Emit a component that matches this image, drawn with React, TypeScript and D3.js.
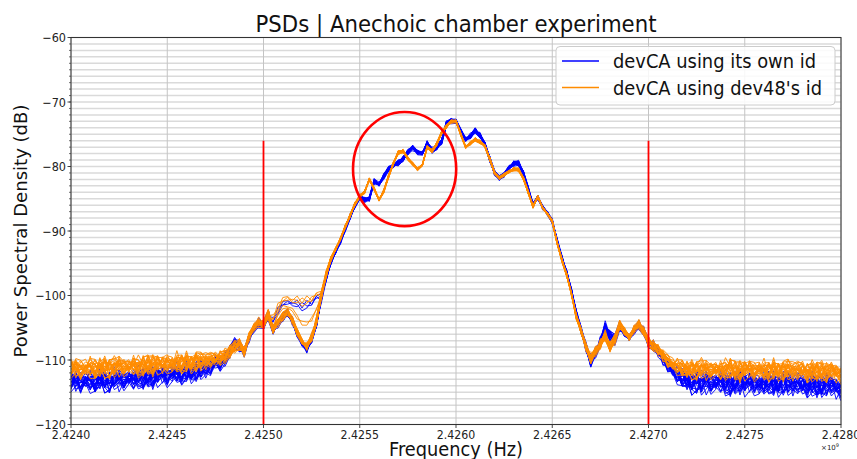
import React from "react";
import * as d3 from "d3";

// ---------- data ----------
const F_START_HZ = 2.424e9;
const F_STEP_HZ = 25e3; // one value every 25 kHz

// mean PSD (dB) of the "devCA using its own id" traces
const BLUE_MEAN = [
  -113.4,-113.2,-113.6,-113.1,-113.3,-113.5,-113.0,-113.2,-113.4,-112.9,-113.1,-113.3,-112.8,-113.0,-112.7,-112.9,-112.6,-112.8,-112.5,-112.3,-112.6,-112.2,-112.0,-112.3,-111.8,-112.0,-111.7,-111.6,
  -111.5,-111.2,-110.2,-110.5,-109.8,-108.6,-107.6,-107.8,-108.8,-106.5,-105.0,-104.3,-104.6,-103.0,-105.3,-104.3,-103.3,-102.8,-104.0,-105.8,-107.4,-108.3,
  -106.7,-104.3,-100.4,-97.3,-94.8,-93.2,-91.6,-89.6,-87.8,-86.0,-84.7,-85.2,-85.0,-82.3,-82.8,-81.5,-80.4,-79.8,-79.4,-78.8,
  -77.8,-77.1,-77.8,-78.0,-76.4,-77.5,-77.0,-76.2,-73.4,-72.9,-73.0,-74.5,-75.8,-75.3,-74.4,-75.2,-76.5,-78.8,-81.0,-81.8,
  -81.3,-80.2,-79.5,-79.5,-81.0,-83.5,-86.0,-84.8,-86.3,-87.2,-88.5,-91.5,-94.2,-96.5,-99.3,-102.8,-105.5,-108.0,-110.2,-108.8,
  -107.3,-104.9,-106.3,-106.8,-104.8,-105.8,-106.6,-105.4,-104.5,-105.6,-107.3,-107.8,-108.7,-109.8,-110.8,-111.6,-112.3,
  -112.8,-113.2,-113.5,-113.3,-113.6,-113.4,-113.7,-113.5,-113.3,-113.6,-113.8,-113.5,-113.4,-113.7,-113.5,-113.6,-113.9,-113.6,-113.4,-113.7,-113.8,-113.5,-113.7,-113.9,-113.6,-113.8,-114.0,-113.7,-113.9,-114.1,-113.8,-114.0,-114.2,-114.5
];

// mean PSD (dB) of the "devCA using dev48's id" traces
const ORANGE_MEAN = [
  -111.4,-111.2,-111.6,-111.3,-111.1,-111.5,-111.2,-111.0,-111.3,-111.1,-110.9,-111.2,-111.0,-110.8,-111.1,-110.9,-110.7,-110.9,-110.6,-110.8,-110.5,-110.7,-110.4,-110.6,-110.3,-110.5,-110.2,-110.3,
  -110.2,-110.0,-109.8,-109.6,-109.4,-108.6,-108.0,-107.6,-108.8,-106.3,-104.8,-104.2,-104.5,-102.9,-105.2,-104.2,-103.2,-102.7,-103.9,-105.6,-107.2,-107.9,
  -106.5,-104.0,-100.0,-96.8,-94.4,-92.8,-91.2,-89.3,-87.6,-85.8,-84.6,-84.0,-82.0,-83.5,-85.2,-83.8,-81.5,-79.5,-77.8,-77.6,
  -78.8,-79.6,-80.4,-79.8,-77.0,-77.6,-76.5,-74.8,-73.8,-73.0,-73.0,-75.0,-77.0,-76.4,-75.8,-76.2,-76.8,-78.8,-81.0,-81.8,
  -81.3,-80.8,-80.4,-80.5,-81.8,-84.0,-86.2,-84.7,-86.4,-87.3,-88.5,-91.8,-94.5,-96.8,-99.8,-103.3,-105.6,-108.0,-109.8,-108.6,
  -107.6,-106.2,-108.0,-106.8,-104.6,-105.6,-106.6,-105.2,-104.4,-105.6,-107.2,-107.8,-108.5,-109.3,-110.2,-110.7,-111.0,
  -111.3,-111.5,-111.4,-111.6,-111.3,-111.5,-111.7,-111.4,-111.6,-111.5,-111.3,-111.6,-111.8,-111.5,-111.4,-111.7,-111.5,-111.6,-111.8,-111.4,-111.6,-111.7,-111.5,-111.8,-111.6,-111.5,-111.9,-111.7,-111.6,-111.8,-112.0,-111.7,-111.9,-112.2
];

// a few traces take an upper path between 2.42505 and 2.42530 GHz
const ALT_START_INDEX = 42;
const BLUE_ALT = [-104.2,-102.4,-101.4,-101.0,-101.1,-101.5,-101.7,-101.5,-101.1,-100.7];
const ORANGE_ALT = [-103.8,-101.8,-100.8,-100.4,-100.6,-100.9,-101.0,-100.8,-100.5,-100.2];

// half-width of each band of traces (dB) at a few frequencies (MHz above 2424)
const SPREAD_MHZ = [0, 0.65, 0.8, 0.95, 1.3, 1.4, 2.6, 2.7, 2.95, 3.05, 3.25, 4.0];
const BLUE_SPREAD = [1.8, 1.6, 1.2, 0.8, 0.7, 0.45, 0.45, 1.0, 0.7, 1.0, 1.9, 1.9];
const ORANGE_SPREAD = [1.7, 1.6, 1.2, 0.8, 0.7, 0.3, 0.3, 0.9, 0.7, 1.0, 1.6, 1.7];

// hand-written trace-to-trace scatter
const JITTER = [0.3,-0.8,0.5,-0.2,0.9,-0.6,0.1,-0.9,0.7,-0.3,0.4,-1.0,0.6,0.0,-0.5,0.8,-0.7,0.2,-0.4,1.0,-0.1,0.5,-0.8,0.3,-0.6,0.9,-0.2,0.1,-0.9,0.6,-0.4,0.7,-0.5,0.2,0.8,-0.7,0.4,-0.3,0.0,-1.0,0.5,0.9,-0.6,0.3,-0.2,0.7,-0.8,0.1,0.6,-0.4,-0.9,0.8,0.2,-0.5,0.4,-0.1,1.0,-0.7,0.3,-0.3,0.5];
const TRACE_OFFSET = [0.9,-0.4,0.2,-0.9,0.6,-0.1,0.4,-0.7,1.0,-0.3,0.1,-0.6,0.7,-1.0,0.3,-0.2,0.8,-0.5,0.0,-0.8,0.5,-0.4,0.2,0.6];
const BLUE_ALT_TRACES = [0, 1, 2];
const ORANGE_ALT_TRACES = [0, 1, 2];
const ORANGE_HALF_ALT_TRACES = [3, 5];

const X_TICKS = [2.424e9, 2.4245e9, 2.425e9, 2.4255e9, 2.426e9, 2.4265e9, 2.427e9, 2.4275e9, 2.428e9];
const X_TICK_LABELS = ["2.4240", "2.4245", "2.4250", "2.4255", "2.4260", "2.4265", "2.4270", "2.4275", "2.4280"];
const Y_TICKS = [-60, -70, -80, -90, -100, -110, -120];
const Y_TICK_LABELS = ["\u221260", "\u221270", "\u221280", "\u221290", "\u2212100", "\u2212110", "\u2212120"];
const Y_MINOR = d3.range(-120, -59, 1);

const RED_LINES_HZ = [2.425e9, 2.427e9];
const RED_LINE_TOP_DB = -76;
const CIRCLE = { fHz: 2.425733e9, db: -80.4, halfHz: 0.268e6, halfDb: 8.85 };

const TITLE = "PSDs | Anechoic chamber experiment";
const LEGEND = ["devCA using its own id", "devCA using dev48's id"];
const BLUE = "#0000ff";
const ORANGE = "#ff8c00";

// ---------- layout ----------
const W = 857, H = 459;
const L = 71, R = 841, T = 37.5, B = 424.5;
const FONT = "DejaVu Sans, Verdana, sans-serif";

function buildTraces(mean: number[], spreadKnots: number[], alt: number[], altTraces: number[], halfAlt: number[], n: number) {
  const spread = d3.scaleLinear().domain(SPREAD_MHZ).range(spreadKnots).clamp(true);
  const traces: [number, number][][] = [];
  for (let k = 0; k < n; k++) {
    const pts: [number, number][] = mean.map((m, i) => {
      const f = F_START_HZ + i * F_STEP_HZ;
      const s = spread((i * F_STEP_HZ) / 1e6);
      let base = m;
      const ai = i - ALT_START_INDEX;
      if (ai >= 0 && ai < alt.length) {
        if (altTraces.includes(k)) base = alt[ai];
        else if (halfAlt.includes(k)) base = (alt[ai] + m) / 2;
      }
      const v = base + s * (0.35 * TRACE_OFFSET[k % TRACE_OFFSET.length] + 0.8 * JITTER[(i * 3 + 17 * k) % JITTER.length]);
      return [f, v];
    });
    traces.push(pts);
  }
  return traces;
}

export default function App() {
  const x = d3.scaleLinear().domain([2.424e9, 2.428e9]).range([L, R]);
  const y = d3.scaleLinear().domain([-120, -60]).range([B, T]);
  const line = d3.line<[number, number]>().x((d) => x(d[0])).y((d) => y(d[1]));

  const blueTraces = buildTraces(BLUE_MEAN, BLUE_SPREAD, BLUE_ALT, BLUE_ALT_TRACES, [], 24);
  const orangeTraces = buildTraces(ORANGE_MEAN, ORANGE_SPREAD, ORANGE_ALT, ORANGE_ALT_TRACES, ORANGE_HALF_ALT_TRACES, 24);

  const cx = x(CIRCLE.fHz), cy = y(CIRCLE.db);
  const rx = x(CIRCLE.fHz + CIRCLE.halfHz) - cx;
  const ry = y(CIRCLE.db - CIRCLE.halfDb) - cy;

  return (
    <svg width={W} height={H} style={{ position: "absolute", left: 0, top: 0, background: "#fff" }} fontFamily={FONT}>
      <defs>
        <clipPath id="plotClip">
          <rect x={L} y={T} width={R - L} height={B - T} />
        </clipPath>
      </defs>
      <rect x={0} y={0} width={W} height={H} fill="#fff" />
      {/* grid */}
      {Y_MINOR.map((v) => (
        <line key={"hy" + v} x1={L} x2={R} y1={y(v)} y2={y(v)} stroke="#dadada" strokeWidth={1.5} />
      ))}
      {X_TICKS.map((t) => (
        <line key={"gx" + t} x1={x(t)} x2={x(t)} y1={T} y2={B} stroke="#c4c4c4" strokeWidth={1} />
      ))}
      {/* traces */}
      <g clipPath="url(#plotClip)" fill="none" strokeLinejoin="round">
        {blueTraces.map((tr, k) => (
          <path key={"b" + k} d={line(tr) || ""} stroke={BLUE} strokeWidth={0.9} />
        ))}
        {orangeTraces.map((tr, k) => (
          <path key={"o" + k} d={line(tr) || ""} stroke={ORANGE} strokeWidth={0.9} />
        ))}
      </g>
      {/* red markers */}
      {RED_LINES_HZ.map((f) => (
        <line key={"r" + f} x1={x(f)} x2={x(f)} y1={y(RED_LINE_TOP_DB)} y2={B} stroke="#ff0000" strokeWidth={1.8} />
      ))}
      <ellipse cx={cx} cy={cy} rx={rx} ry={ry} fill="none" stroke="#ff0000" strokeWidth={2.6} />
      {/* spines */}
      <rect x={L} y={T} width={R - L} height={B - T} fill="none" stroke="#333" strokeWidth={1} />
      {/* y ticks */}
      {Y_MINOR.map((v) => (
        <line key={"ym" + v} x1={L - 2} x2={L} y1={y(v)} y2={y(v)} stroke="#333" strokeWidth={0.7} />
      ))}
      {Y_TICKS.map((t, i) => (
        <g key={"yt" + t}>
          <line x1={L - 3.5} x2={L} y1={y(t)} y2={y(t)} stroke="#333" strokeWidth={0.9} />
          <g transform={`translate(${L - 5},${y(t) + 4.5}) scale(0.9,1)`}>
            <text textAnchor="end" fontSize={12.5} fill="#222">{Y_TICK_LABELS[i]}</text>
          </g>
        </g>
      ))}
      {/* x ticks */}
      {X_TICKS.map((t, i) => (
        <g key={"xt" + t}>
          <line x1={x(t)} x2={x(t)} y1={B} y2={B + 3.5} stroke="#333" strokeWidth={0.9} />
          <g transform={`translate(${x(t)},${B + 14.5}) scale(0.88,1)`}>
            <text textAnchor="middle" fontSize={12.5} fill="#222">{X_TICK_LABELS[i]}</text>
          </g>
        </g>
      ))}
      <text x={839} y={450} textAnchor="end" fontSize={7} fill="#222">×10<tspan dy={-3} fontSize={5}>9</tspan></text>
      {/* labels */}
      <text x={(L + R) / 2} y={32} textAnchor="middle" fontSize={23} fill="#111" textLength={401} lengthAdjust="spacingAndGlyphs">{TITLE}</text>
      <text x={(L + R) / 2} y={456} textAnchor="middle" fontSize={19} fill="#111" textLength={134} lengthAdjust="spacingAndGlyphs">Frequency (Hz)</text>
      <text transform={`translate(27,${(T + B) / 2}) rotate(-90)`} textAnchor="middle" fontSize={18} fill="#111" textLength={253} lengthAdjust="spacingAndGlyphs">Power Spectral Density (dB)</text>
      {/* legend */}
      <rect x={556} y={46.5} width={279} height={58.5} rx={4} fill="#fff" fillOpacity={0.85} stroke="#cccccc" strokeWidth={1} />
      {[BLUE, ORANGE].map((c, i) => (
        <g key={"lg" + i}>
          <line x1={562} x2={599} y1={61 + i * 26.5} y2={61 + i * 26.5} stroke={c} strokeWidth={1.5} />
          <text x={613} y={68 + i * 27} fontSize={20} fill="#111" textLength={i === 0 ? 203 : 209} lengthAdjust="spacingAndGlyphs">{LEGEND[i]}</text>
        </g>
      ))}
    </svg>
  );
}
